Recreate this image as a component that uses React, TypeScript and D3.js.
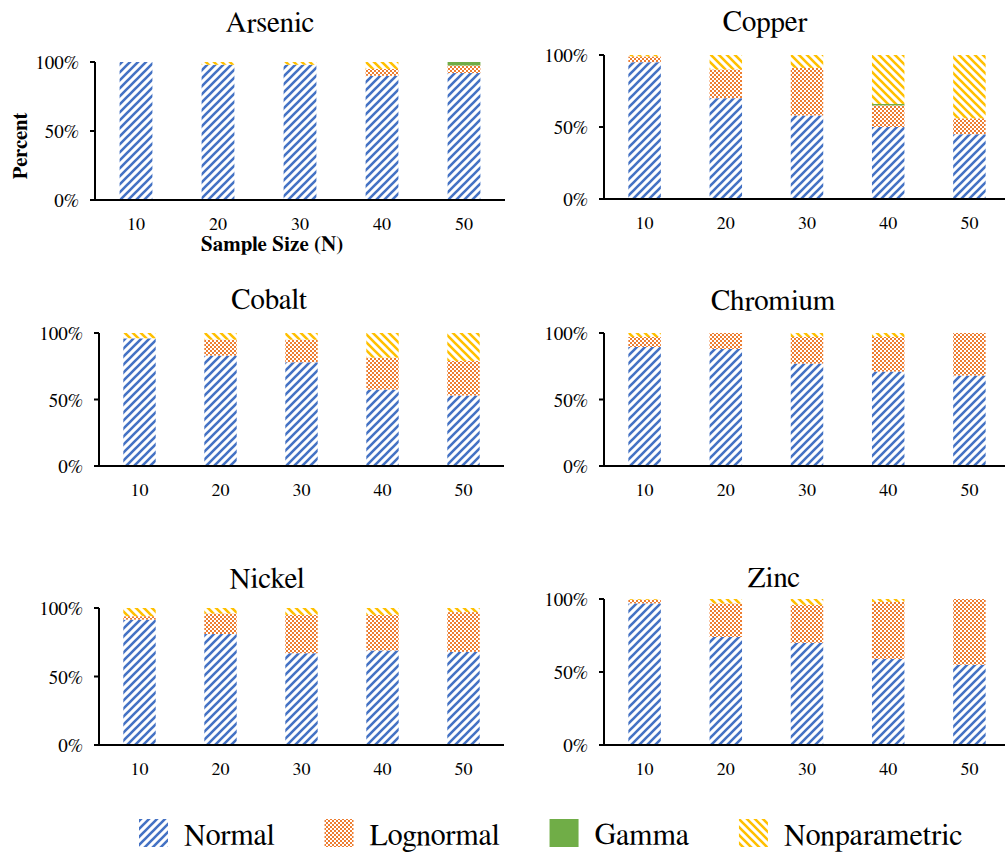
import React, { useEffect, useRef } from "react";
import * as d3 from "d3";

// ---- Data (percent of simulations; columns: Normal, Lognormal, Gamma, Nonparametric) ----
const sampleSizes = ["10", "20", "30", "40", "50"];
const seriesNames = ["Normal", "Lognormal", "Gamma", "Nonparametric"];
const yTicks = [0, 50, 100];

const arsenic = [
  [100, 0, 0, 0],
  [98, 0, 0, 2],
  [98, 0, 0, 2],
  [90, 5, 0, 5],
  [92, 5.5, 2.5, 0],
];
const copper = [
  [95, 4, 0, 1],
  [70, 20, 0, 10],
  [58, 33, 0, 9],
  [50, 15, 1, 34],
  [45, 11, 0, 44],
];
const cobalt = [
  [96, 0, 0, 4],
  [83, 12, 0, 5],
  [78, 17, 0, 5],
  [57.5, 24, 0, 18.5],
  [53, 26, 0, 21],
];
const chromium = [
  [89.5, 7.5, 0, 3],
  [88, 12, 0, 0],
  [77, 20, 0, 3],
  [71, 26, 0, 3],
  [68, 32, 0, 0],
];
const nickel = [
  [91.5, 2.5, 0, 6],
  [81, 15, 0, 4],
  [67, 28, 0, 5],
  [69, 26, 0, 5],
  [68, 29, 0, 3],
];
const zinc = [
  [97, 2.5, 0, 0.5],
  [74, 23, 0, 3],
  [70, 26, 0, 4],
  [59, 39, 0, 2],
  [55, 45, 0, 0],
];

// ---- Layout ----
const panels = [
  { name: "Arsenic", data: arsenic, x0: 95, x1: 505, yTop: 62, yBot: 200, titleX: 270, titleY: 32, axisTitles: true },
  { name: "Copper", data: copper, x0: 604, x1: 1010, yTop: 55, yBot: 199, titleX: 765, titleY: 31 },
  { name: "Cobalt", data: cobalt, x0: 99, x1: 504, yTop: 333, yBot: 466, titleX: 269, titleY: 309 },
  { name: "Chromium", data: chromium, x0: 604, x1: 1010, yTop: 333, yBot: 466, titleX: 773, titleY: 310 },
  { name: "Nickel", data: nickel, x0: 99, x1: 504, yTop: 608, yBot: 745, titleX: 267, titleY: 588 },
  { name: "Zinc", data: zinc, x0: 604, x1: 1010, yTop: 599, yBot: 745, titleX: 774, titleY: 587 },
];

const FONT = "FreeSerif, 'Liberation Serif', serif";
const fills = ["url(#pNormal)", "url(#pLognormal)", "#70AD47", "url(#pNonparam)"];

export default function App() {
  const ref = useRef<SVGSVGElement | null>(null);

  useEffect(() => {
    const svg = d3.select(ref.current);
    svg.selectAll("*").remove();

    // patterns
    const defs = svg.append("defs");
    const pN = defs.append("pattern").attr("id", "pNormal").attr("patternUnits", "userSpaceOnUse").attr("width", 8).attr("height", 8);
    pN.append("rect").attr("width", 8).attr("height", 8).attr("fill", "#fff");
    pN.append("path").attr("d", "M-2,2 L2,-2 M0,8 L8,0 M6,10 L10,6").attr("stroke", "#4472C4").attr("stroke-width", 2.6);

    const pY = defs.append("pattern").attr("id", "pNonparam").attr("patternUnits", "userSpaceOnUse").attr("width", 8).attr("height", 8);
    pY.append("rect").attr("width", 8).attr("height", 8).attr("fill", "#fff");
    pY.append("path").attr("d", "M-2,6 L2,10 M0,0 L8,8 M6,-2 L10,2").attr("stroke", "#FFC000").attr("stroke-width", 2.6);

    const pL = defs.append("pattern").attr("id", "pLognormal").attr("patternUnits", "userSpaceOnUse").attr("width", 4).attr("height", 4);
    pL.append("rect").attr("width", 4).attr("height", 4).attr("fill", "#fff");
    pL.append("rect").attr("width", 2).attr("height", 2).attr("fill", "#ED7D31");
    pL.append("rect").attr("x", 2).attr("y", 2).attr("width", 2).attr("height", 2).attr("fill", "#ED7D31");

    const stack = d3.stack<number[]>().keys(seriesNames.map((_, i) => String(i))).value((d, k) => d[+k]);

    panels.forEach((p) => {
      const g = svg.append("g");
      const x = d3.scaleBand<string>().domain(sampleSizes).range([p.x0, p.x1]).paddingInner(0.6).paddingOuter(0.3);
      const y = d3.scaleLinear().domain([0, 100]).range([p.yBot, p.yTop]);

      const stacked = stack(p.data);
      stacked.forEach((layer, si) => {
        g.selectAll(null)
          .data(layer.map((d, i) => ({ d, i })))
          .enter()
          .append("rect")
          .attr("x", (v) => x(sampleSizes[v.i]) as number)
          .attr("width", x.bandwidth())
          .attr("y", (v) => y(v.d[1]))
          .attr("height", (v) => Math.max(0, y(v.d[0]) - y(v.d[1])))
          .attr("fill", fills[si]);
      });

      // axes
      g.append("line").attr("x1", p.x0).attr("x2", p.x0).attr("y1", p.yTop).attr("y2", p.yBot).attr("stroke", "#000").attr("stroke-width", 2);
      g.append("line").attr("x1", p.x0 - 5).attr("x2", p.x1).attr("y1", p.yBot).attr("y2", p.yBot).attr("stroke", "#000").attr("stroke-width", 2);
      yTicks.forEach((t) => {
        g.append("line").attr("x1", p.x0 - 5).attr("x2", p.x0).attr("y1", y(t)).attr("y2", y(t)).attr("stroke", "#000").attr("stroke-width", 2);
        g.append("text")
          .attr("x", p.x0 - 16)
          .attr("y", y(t) + 7)
          .attr("text-anchor", "end")
          .style("font-family", FONT)
          .attr("font-size", 19)
          .attr("fill", "#000")
          .text(`${t}%`);
      });
      sampleSizes.forEach((s) => {
        g.append("text")
          .attr("x", (x(s) as number) + x.bandwidth() / 2)
          .attr("y", p.yBot + 29.5)
          .attr("text-anchor", "middle")
          .style("font-family", FONT)
          .attr("font-size", 18)
          .attr("fill", "#000")
          .text(s);
      });

      g.append("text")
        .attr("x", p.titleX)
        .attr("y", p.titleY)
        .attr("text-anchor", "middle")
        .style("font-family", FONT)
        .attr("font-size", 29)
        .attr("fill", "#000")
        .text(p.name);

      if (p.axisTitles) {
        g.append("text")
          .attr("transform", `translate(27,146) rotate(-90)`)
          .attr("text-anchor", "middle")
          .style("font-family", FONT)
          .attr("font-weight", "bold")
          .attr("font-size", 21)
          .attr("fill", "#000")
          .text("Percent");
        g.append("text")
          .attr("x", 272)
          .attr("y", 251)
          .attr("text-anchor", "middle")
          .style("font-family", FONT)
          .attr("font-weight", "bold")
          .attr("font-size", 21)
          .attr("fill", "#000")
          .text("Sample Size (N)");
      }
    });

    // legend
    const lg = svg.append("g");
    let cx = 139;
    seriesNames.forEach((name, i) => {
      lg.append("rect").attr("x", cx).attr("y", 819).attr("width", 29).attr("height", 28).attr("fill", fills[i]);
      const t = lg
        .append("text")
        .attr("x", cx + 29 + 16)
        .attr("y", 845)
        .style("font-family", FONT)
        .attr("font-size", 30)
        .attr("fill", "#000")
        .text(name);
      const w = (t.node() as SVGTextElement).getComputedTextLength();
      cx = cx + 29 + 16 + w + 50;
    });
  }, []);

  return (
    <svg
      ref={ref}
      width={1005}
      height={855}
      style={{ position: "absolute", left: 0, top: 0, background: "#fff" }}
    />
  );
}
